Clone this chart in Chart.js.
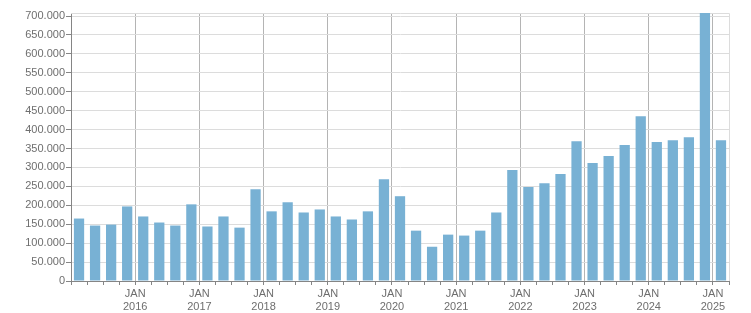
<!DOCTYPE html>
<html>
<head>
<meta charset="utf-8">
<script src="https://cdn.jsdelivr.net/npm/chart.js@4/dist/chart.umd.min.js"></script>
<style>
  html, body { margin: 0; padding: 0; background: #fff; }
  #wrap { width: 751px; height: 313px; position: relative; }
</style>
</head>
<body>
<div id="wrap"><canvas id="quarterChart"></canvas></div>
<script>
// Data per kuartal, Q1 2015 - Q1 2025
const quarters = [
    '2015 Q1', '2015 Q2', '2015 Q3', '2015 Q4',
    '2016 Q1', '2016 Q2', '2016 Q3', '2016 Q4',
    '2017 Q1', '2017 Q2', '2017 Q3', '2017 Q4',
    '2018 Q1', '2018 Q2', '2018 Q3', '2018 Q4',
    '2019 Q1', '2019 Q2', '2019 Q3', '2019 Q4',
    '2020 Q1', '2020 Q2', '2020 Q3', '2020 Q4',
    '2021 Q1', '2021 Q2', '2021 Q3', '2021 Q4',
    '2022 Q1', '2022 Q2', '2022 Q3', '2022 Q4',
    '2023 Q1', '2023 Q2', '2023 Q3', '2023 Q4',
    '2024 Q1', '2024 Q2', '2024 Q3', '2024 Q4',
    '2025 Q1'
];
const values = [
    165000, 146500, 149000, 197000, 170500, 154500, 146500, 202500, 144000, 170500, 141000, 242500,
    184000, 208000, 181000, 189000, 170500, 162500, 184000, 269000, 224000, 133000, 90500, 122500,
    120000, 133000, 181000, 293000, 248000, 258500, 282500, 369000, 311500, 330000, 359000, 435000,
    367000, 372000, 380000, 708000, 372000
];
const monthLabel = 'JAN';
const yearLabels = ['2016', '2017', '2018', '2019', '2020', '2021', '2022', '2023', '2024', '2025'];
const yTicks = [0, 50000, 100000, 150000, 200000, 250000, 300000, 350000, 400000, 450000, 500000, 550000, 600000, 650000, 700000];
const yMax = 708000;

const barColor = '#78b1d4';
const gridLight = '#dcdcdc';
const gridYear = '#b4b4b4';
const axisColor = '#858585';
const textColor = '#6e6e6e';

// Bingkai atas & kanan area plot
const framePlugin = {
    id: 'frame',
    beforeDatasetsDraw(chart) {
        const { ctx, chartArea: a } = chart;
        ctx.save();
        ctx.strokeStyle = gridLight;
        ctx.lineWidth = 1;
        ctx.beginPath();
        ctx.moveTo(Math.round(a.left), Math.round(a.top) + 0.5);
        ctx.lineTo(Math.round(a.right) + 0.5, Math.round(a.top) + 0.5);
        ctx.lineTo(Math.round(a.right) + 0.5, Math.round(a.bottom));
        ctx.stroke();
        ctx.restore();
    }
};

function fmtThousands(v) {
    return String(Math.round(v)).replace(/\B(?=(\d{3})+(?!\d))/g, '.');
}

const ctx = document.getElementById('quarterChart').getContext('2d');
new Chart(ctx, {
    type: 'bar',
    data: {
        labels: quarters,
        datasets: [{
            label: 'Total',
            data: values.map((v, i) => ({ x: i + 0.5, y: v })),
            backgroundColor: barColor,
            borderWidth: 0,
            barPercentage: 0.64,
            categoryPercentage: 1
        }]
    },
    options: {
        responsive: true, maintainAspectRatio: false,
        animation: false,
        layout: { padding: { left: 0, right: 22, top: 13, bottom: 0 } },
        plugins: {
            legend: { display: false },
            tooltip: { enabled: false },
            title: { display: false }
        },
        scales: {
            x: {
                type: 'linear',
                min: 0,
                max: quarters.length,
                offset: false,
                grid: {
                    offset: false,
                    drawTicks: true,
                    tickLength: 4,
                    color: (c) => {
                        const v = c.tick ? c.tick.value : 0;
                        return (v % 4 === 0 && v > 0 && v < quarters.length) ? gridYear : 'rgba(0,0,0,0)';
                    },
                    tickColor: axisColor
                },
                border: { color: axisColor, width: 1 },
                ticks: {
                    stepSize: 1,
                    autoSkip: false,
                    maxRotation: 0,
                    padding: 3,
                    color: textColor,
                    font: { family: '"Liberation Sans", Arial, sans-serif', size: 11, lineHeight: 1.15 },
                    callback: (v) => (v % 4 === 0 && v > 0) ? [monthLabel, yearLabels[v / 4 - 1]] : ''
                },
                afterFit: (scale) => { scale.height = 32; }
            },
            y: {
                min: 0,
                max: yMax,
                grid: { color: gridLight, tickColor: axisColor, tickLength: 5 },
                border: { color: axisColor, width: 1 },
                ticks: {
                    autoSkip: false,
                    padding: 1,
                    color: textColor,
                    font: { family: '"Liberation Sans", Arial, sans-serif', size: 11 },
                    callback: (v) => fmtThousands(v)
                },
                afterBuildTicks: (scale) => { scale.ticks = yTicks.map(v => ({ value: v })); },
                afterFit: (scale) => { scale.width = 71; }
            }
        }
    },
    plugins: [framePlugin]
});
</script>
</body>
</html>
